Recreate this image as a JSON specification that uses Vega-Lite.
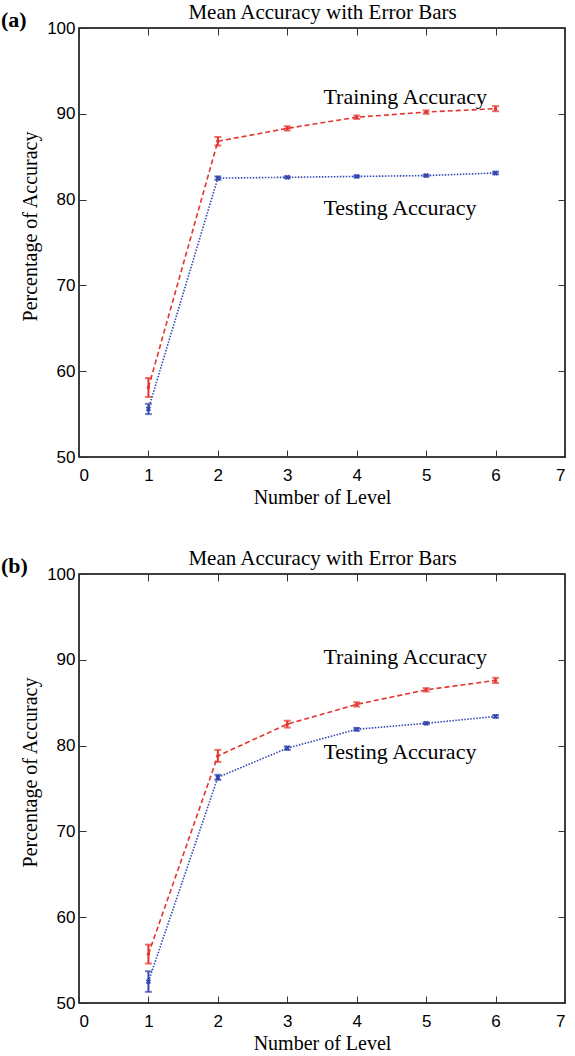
{
  "$schema": "https://vega.github.io/schema/vega-lite/v6.json",
  "padding": {"left": 0, "top": 0, "right": 4, "bottom": 0},
  "background": "white",
  "datasets": {
    "acc": [
      {"panel": "a", "series": "Training", "level": 1, "mean": 58.1, "err": 1.1},
      {"panel": "a", "series": "Training", "level": 2, "mean": 86.8, "err": 0.5},
      {"panel": "a", "series": "Training", "level": 3, "mean": 88.3, "err": 0.25},
      {"panel": "a", "series": "Training", "level": 4, "mean": 89.6, "err": 0.2},
      {"panel": "a", "series": "Training", "level": 5, "mean": 90.2, "err": 0.2},
      {"panel": "a", "series": "Training", "level": 6, "mean": 90.6, "err": 0.3},
      {"panel": "a", "series": "Testing", "level": 1, "mean": 55.6, "err": 0.6},
      {"panel": "a", "series": "Testing", "level": 2, "mean": 82.5, "err": 0.2},
      {"panel": "a", "series": "Testing", "level": 3, "mean": 82.6, "err": 0.1},
      {"panel": "a", "series": "Testing", "level": 4, "mean": 82.7, "err": 0.1},
      {"panel": "a", "series": "Testing", "level": 5, "mean": 82.8, "err": 0.1},
      {"panel": "a", "series": "Testing", "level": 6, "mean": 83.1, "err": 0.15},
      {"panel": "b", "series": "Training", "level": 1, "mean": 55.7, "err": 1.1},
      {"panel": "b", "series": "Training", "level": 2, "mean": 78.8, "err": 0.7},
      {"panel": "b", "series": "Training", "level": 3, "mean": 82.5, "err": 0.4},
      {"panel": "b", "series": "Training", "level": 4, "mean": 84.8, "err": 0.25},
      {"panel": "b", "series": "Training", "level": 5, "mean": 86.5, "err": 0.2},
      {"panel": "b", "series": "Training", "level": 6, "mean": 87.6, "err": 0.3},
      {"panel": "b", "series": "Testing", "level": 1, "mean": 52.5, "err": 1.2},
      {"panel": "b", "series": "Testing", "level": 2, "mean": 76.3, "err": 0.3},
      {"panel": "b", "series": "Testing", "level": 3, "mean": 79.7, "err": 0.2},
      {"panel": "b", "series": "Testing", "level": 4, "mean": 81.9, "err": 0.15},
      {"panel": "b", "series": "Testing", "level": 5, "mean": 82.6, "err": 0.1},
      {"panel": "b", "series": "Testing", "level": 6, "mean": 83.4, "err": 0.15}
    ],
    "notes": [
      {"panel": "a", "label": "Training Accuracy", "level": 3.52, "value": 92.0},
      {"panel": "a", "label": "Testing Accuracy", "level": 3.52, "value": 79.0},
      {"panel": "b", "label": "Training Accuracy", "level": 3.52, "value": 90.3},
      {"panel": "b", "label": "Testing Accuracy", "level": 3.52, "value": 79.2}
    ],
    "tags": [
      {"panel": "a", "tag": "(a)", "level": 0, "value": 100},
      {"panel": "b", "tag": "(b)", "level": 0, "value": 100}
    ]
  },
  "vconcat": [
    {
      "width": 486, "height": 429,
      "layer": [
        {
          "data": {"name": "acc"},
          "transform": [{"filter": "datum.panel == 'a'"}],
          "mark": {"type": "line", "strokeWidth": 1.6},
          "encoding": {
            "x": {"field": "level", "type": "quantitative", "scale": {"domain": [0, 7], "nice": false}, "axis": {"values": [0,1,2,3,4,5,6,7], "title": "Number of Level", "orient": "bottom", "labelPadding": 17, "titlePadding": 4}},
            "y": {"field": "mean", "type": "quantitative", "scale": {"domain": [50, 100], "nice": false, "zero": false}, "axis": {"values": [50,60,70,80,90,100], "title": "Percentage of Accuracy", "orient": "left", "labelPadding": 11, "titleY": 198}},
            "color": {"field": "series", "type": "nominal", "scale": {"domain": ["Training", "Testing"], "range": ["#e3342f", "#3446b0"]}, "legend": null},
            "strokeDash": {"field": "series", "type": "nominal", "scale": {"domain": ["Training", "Testing"], "range": [[5, 3], [1.5, 1.5]]}, "legend": null}
          }
        },
        {
          "data": {"name": "acc"},
          "transform": [{"filter": "datum.panel == 'a'"}],
          "mark": {"type": "errorbar", "ticks": {"size": 7}, "thickness": 2},
          "encoding": {
            "x": {"field": "level", "type": "quantitative", "axis": null},
            "y": {"field": "mean", "type": "quantitative", "axis": null},
            "yError": {"field": "err"},
            "color": {"field": "series", "type": "nominal", "legend": null}
          }
        },
        {
          "data": {"name": "acc"},
          "transform": [{"filter": "datum.panel == 'a'"}],
          "mark": {"type": "point", "filled": false, "strokeWidth": 2, "size": 30, "opacity": 1},
          "encoding": {
            "x": {"field": "level", "type": "quantitative", "axis": null},
            "y": {"field": "mean", "type": "quantitative", "axis": null},
            "color": {"field": "series", "type": "nominal", "legend": null},
            "shape": {"field": "series", "type": "nominal", "scale": {"domain": ["Training", "Testing"], "range": ["M-0.6,0L0.6,0M0,-0.6L0,0.6", "M-0.7,-0.7L0.7,0.7M-0.7,0.7L0.7,-0.7"]}, "legend": null}
          }
        },
        {
          "data": {"name": "notes"},
          "transform": [{"filter": "datum.panel == 'a'"}],
          "mark": {"type": "text", "align": "left", "baseline": "middle", "font": "Liberation Serif", "fontSize": 22, "color": "black"},
          "encoding": {
            "x": {"field": "level", "type": "quantitative", "axis": null},
            "y": {"field": "value", "type": "quantitative", "axis": null},
            "text": {"field": "label"}
          }
        },
        {
          "data": {"name": "tags"},
          "transform": [{"filter": "datum.panel == 'a'"}],
          "mark": {"type": "text", "align": "left", "baseline": "middle", "font": "Liberation Serif", "fontSize": 22, "fontWeight": "bold", "color": "black", "dx": -78, "dy": -8},
          "encoding": {
            "x": {"field": "level", "type": "quantitative", "axis": null},
            "y": {"field": "value", "type": "quantitative", "axis": null},
            "text": {"field": "tag"}
          }
        },
        {
          "data": {"name": "acc"},
          "transform": [{"filter": "datum.panel == 'a'"}],
          "mark": {"type": "point", "opacity": 0},
          "encoding": {
            "x": {"field": "level", "type": "quantitative", "axis": {"orient": "top", "values": [0,1,2,3,4,5,6,7], "labels": false, "title": "Mean Accuracy with Error Bars", "titleFontSize": 21, "titlePadding": 5}},
            "y": {"field": "mean", "type": "quantitative", "axis": {"orient": "right", "values": [50,60,70,80,90,100], "labels": false, "title": null}}
          }
        }
      ],
      "resolve": {"axis": {"x": "independent", "y": "independent"}}
    },
    {
      "width": 486, "height": 429,
      "layer": [
        {
          "data": {"name": "acc"},
          "transform": [{"filter": "datum.panel == 'b'"}],
          "mark": {"type": "line", "strokeWidth": 1.6},
          "encoding": {
            "x": {"field": "level", "type": "quantitative", "scale": {"domain": [0, 7], "nice": false}, "axis": {"values": [0,1,2,3,4,5,6,7], "title": "Number of Level", "orient": "bottom", "labelPadding": 17, "titlePadding": 4}},
            "y": {"field": "mean", "type": "quantitative", "scale": {"domain": [50, 100], "nice": false, "zero": false}, "axis": {"values": [50,60,70,80,90,100], "title": "Percentage of Accuracy", "orient": "left", "labelPadding": 11, "titleY": 198}},
            "color": {"field": "series", "type": "nominal", "scale": {"domain": ["Training", "Testing"], "range": ["#e3342f", "#3446b0"]}, "legend": null},
            "strokeDash": {"field": "series", "type": "nominal", "scale": {"domain": ["Training", "Testing"], "range": [[5, 3], [1.5, 1.5]]}, "legend": null}
          }
        },
        {
          "data": {"name": "acc"},
          "transform": [{"filter": "datum.panel == 'b'"}],
          "mark": {"type": "errorbar", "ticks": {"size": 7}, "thickness": 2},
          "encoding": {
            "x": {"field": "level", "type": "quantitative", "axis": null},
            "y": {"field": "mean", "type": "quantitative", "axis": null},
            "yError": {"field": "err"},
            "color": {"field": "series", "type": "nominal", "legend": null}
          }
        },
        {
          "data": {"name": "acc"},
          "transform": [{"filter": "datum.panel == 'b'"}],
          "mark": {"type": "point", "filled": false, "strokeWidth": 2, "size": 30, "opacity": 1},
          "encoding": {
            "x": {"field": "level", "type": "quantitative", "axis": null},
            "y": {"field": "mean", "type": "quantitative", "axis": null},
            "color": {"field": "series", "type": "nominal", "legend": null},
            "shape": {"field": "series", "type": "nominal", "scale": {"domain": ["Training", "Testing"], "range": ["M-0.6,0L0.6,0M0,-0.6L0,0.6", "M-0.7,-0.7L0.7,0.7M-0.7,0.7L0.7,-0.7"]}, "legend": null}
          }
        },
        {
          "data": {"name": "notes"},
          "transform": [{"filter": "datum.panel == 'b'"}],
          "mark": {"type": "text", "align": "left", "baseline": "middle", "font": "Liberation Serif", "fontSize": 22, "color": "black"},
          "encoding": {
            "x": {"field": "level", "type": "quantitative", "axis": null},
            "y": {"field": "value", "type": "quantitative", "axis": null},
            "text": {"field": "label"}
          }
        },
        {
          "data": {"name": "tags"},
          "transform": [{"filter": "datum.panel == 'b'"}],
          "mark": {"type": "text", "align": "left", "baseline": "middle", "font": "Liberation Serif", "fontSize": 22, "fontWeight": "bold", "color": "black", "dx": -78, "dy": -8},
          "encoding": {
            "x": {"field": "level", "type": "quantitative", "axis": null},
            "y": {"field": "value", "type": "quantitative", "axis": null},
            "text": {"field": "tag"}
          }
        },
        {
          "data": {"name": "acc"},
          "transform": [{"filter": "datum.panel == 'b'"}],
          "mark": {"type": "point", "opacity": 0},
          "encoding": {
            "x": {"field": "level", "type": "quantitative", "axis": {"orient": "top", "values": [0,1,2,3,4,5,6,7], "labels": false, "title": "Mean Accuracy with Error Bars", "titleFontSize": 21, "titlePadding": 5}},
            "y": {"field": "mean", "type": "quantitative", "axis": {"orient": "right", "values": [50,60,70,80,90,100], "labels": false, "title": null}}
          }
        }
      ],
      "resolve": {"axis": {"x": "independent", "y": "independent"}}
    }
  ],
  "spacing": 38,
  "config": {
    "view": {"stroke": "black", "strokeWidth": 1.5},
    "axis": {"grid": false, "domain": false, "tickColor": "#333333", "tickWidth": 1, "tickSize": -7, "labelFont": "Liberation Sans", "labelFontSize": 17, "labelColor": "black", "labelPadding": 10, "titleFont": "Liberation Serif", "titleFontSize": 20, "titleFontWeight": "normal", "titleColor": "black", "titlePadding": 6}
  }
}
